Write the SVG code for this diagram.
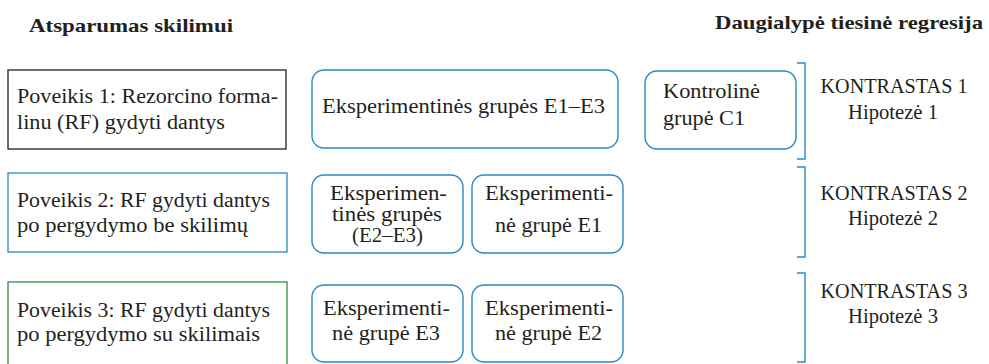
<svg xmlns="http://www.w3.org/2000/svg" width="989" height="364" viewBox="0 0 989 364">
<style>
text{font-family:"Liberation Serif",Tinos,"Noto Serif","DejaVu Serif",FreeSerif,"Times New Roman",Times,Georgia,serif;fill:#231f20;font-size:20px}
.t{font-weight:bold;font-size:19px}
.c{text-anchor:middle}
.sq{fill:#fff;stroke-width:1.3}
.rb{fill:#fff;stroke:#2a8ac2;stroke-width:1.4}
.br{fill:none;stroke:#2a8ac2;stroke-width:1.4}
</style>
<rect width="989" height="364" fill="#fff"/>
<g id="titles">
<text class="t" x="29" y="32" textLength="204" lengthAdjust="spacingAndGlyphs">Atsparumas skilimui</text>
<text class="t" x="715" y="29" textLength="268" lengthAdjust="spacingAndGlyphs">Daugialypė tiesinė regresija</text>
</g>
<g id="poveikis1">
<rect class="sq" x="8" y="70" width="278" height="79" stroke="#231f20"/>
<text x="17" y="103" textLength="261" lengthAdjust="spacingAndGlyphs">Poveikis 1: Rezorcino forma-</text>
<text x="17" y="129" textLength="208" lengthAdjust="spacingAndGlyphs">linu (RF) gydyti dantys</text>
</g>
<g id="poveikis2">
<rect class="sq" x="8" y="173" width="279" height="79" stroke="#2a8ac2"/>
<text x="17" y="207" textLength="253" lengthAdjust="spacingAndGlyphs">Poveikis 2: RF gydyti dantys</text>
<text x="17" y="232" textLength="231" lengthAdjust="spacingAndGlyphs">po pergydymo be skilimų</text>
</g>
<g id="poveikis3">
<rect class="sq" x="8" y="282" width="279" height="90" stroke="#2e8b46"/>
<text x="17" y="317" textLength="253" lengthAdjust="spacingAndGlyphs">Poveikis 3: RF gydyti dantys</text>
<text x="17" y="341" textLength="243" lengthAdjust="spacingAndGlyphs">po pergydymo su skilimais</text>
</g>
<g id="e1e3">
<rect class="rb" x="312" y="70" width="306" height="78" rx="12"/>
<text x="322" y="113" textLength="283" lengthAdjust="spacingAndGlyphs">Eksperimentinės grupės E1–E3</text>
</g>
<g id="c1">
<rect class="rb" x="645" y="71" width="151" height="78" rx="12"/>
<text x="663" y="98" textLength="97" lengthAdjust="spacingAndGlyphs">Kontrolinė</text>
<text x="663" y="125" textLength="82" lengthAdjust="spacingAndGlyphs">grupė C1</text>
</g>
<g id="e2e3">
<rect class="rb" x="312" y="175" width="151" height="78" rx="12"/>
<text x="330" y="200" textLength="117" lengthAdjust="spacingAndGlyphs">Eksperimen-</text>
<text x="332" y="221" textLength="110" lengthAdjust="spacingAndGlyphs">tinės grupės</text>
<text x="352" y="242" textLength="71" lengthAdjust="spacingAndGlyphs">(E2–E3)</text>
</g>
<g id="e1">
<rect class="rb" x="472" y="175" width="151" height="78" rx="12"/>
<text x="485" y="200" textLength="128" lengthAdjust="spacingAndGlyphs">Eksperimenti-</text>
<text x="495" y="232" textLength="107" lengthAdjust="spacingAndGlyphs">nė grupė E1</text>
</g>
<g id="e3">
<rect class="rb" x="312" y="285" width="151" height="77" rx="12"/>
<text x="323" y="315" textLength="127" lengthAdjust="spacingAndGlyphs">Eksperimenti-</text>
<text x="332" y="340" textLength="108" lengthAdjust="spacingAndGlyphs">nė grupė E3</text>
</g>
<g id="e2">
<rect class="rb" x="472" y="285" width="151" height="77" rx="12"/>
<text x="485" y="315" textLength="128" lengthAdjust="spacingAndGlyphs">Eksperimenti-</text>
<text x="495" y="340" textLength="107" lengthAdjust="spacingAndGlyphs">nė grupė E2</text>
</g>
<g id="connectors">
<path class="br" d="M797 63H805V159H797"/>
<path class="br" d="M797 167H805V257H797"/>
<path class="br" d="M797 273H805V362H797"/>
</g>
<g id="kontrastas1">
<text class="c" x="894" y="93" textLength="147" lengthAdjust="spacingAndGlyphs">KONTRASTAS 1</text>
<text class="c" x="893" y="119" textLength="90" lengthAdjust="spacingAndGlyphs">Hipotezė 1</text>
</g>
<g id="kontrastas2">
<text class="c" x="894" y="200" textLength="147" lengthAdjust="spacingAndGlyphs">KONTRASTAS 2</text>
<text class="c" x="893" y="225" textLength="90" lengthAdjust="spacingAndGlyphs">Hipotezė 2</text>
</g>
<g id="kontrastas3">
<text class="c" x="894" y="298" textLength="147" lengthAdjust="spacingAndGlyphs">KONTRASTAS 3</text>
<text class="c" x="893" y="323" textLength="90" lengthAdjust="spacingAndGlyphs">Hipotezė 3</text>
</g>
</svg>
